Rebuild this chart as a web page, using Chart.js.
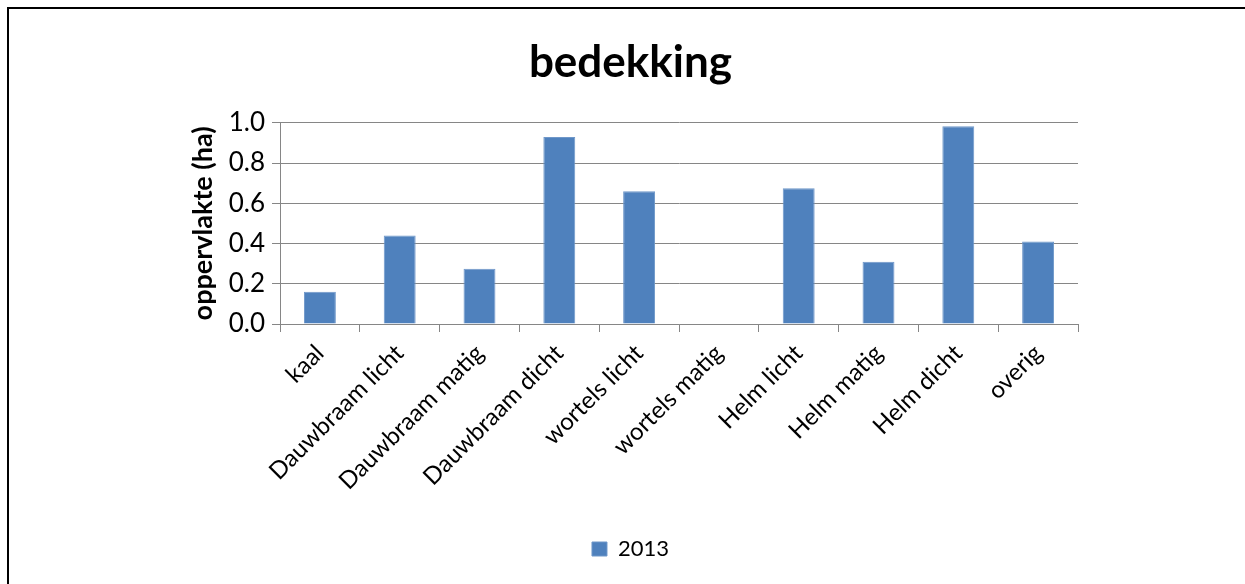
<!DOCTYPE html>
<html>
<head>
<meta charset="utf-8">
<script src="https://cdn.jsdelivr.net/npm/chart.js@4.4.0/dist/chart.umd.min.js"></script>
<style>
  html, body { margin: 0; padding: 0; background: #fff; overflow: hidden; }
  #frame { position: absolute; left: 7px; top: 7px; width: 1236px; height: 575px;
           border-left: 2px solid #000; border-top: 2px solid #000; }
  #wrap { position: absolute; left: 0; top: 0; width: 1245px; height: 584px; }
</style>
</head>
<body>
<div id="frame"></div>
<div id="wrap"><canvas id="myChart" width="1245" height="584"></canvas></div>
<script>
// bedekking per vegetatietype
const categories = ['kaal', 'Dauwbraam licht', 'Dauwbraam matig', 'Dauwbraam dicht', 'wortels licht',
                    'wortels matig', 'Helm licht', 'Helm matig', 'Helm dicht', 'overig']
const values2013 = [0.16, 0.44, 0.275, 0.93, 0.66, 0, 0.675, 0.31, 0.983, 0.41]
const yTicks = [0, 0.2, 0.4, 0.6, 0.8, 1.0]

const gridGrey = '#868686'
const font = 'Lato'

let ctx = document.getElementById('myChart').getContext('2d')

let chart = new Chart(ctx, {
    type: 'bar',
    data: {
        labels: categories,
        datasets: [{
            label: '2013',
            data: values2013,
            backgroundColor: '#4F81BD',
            borderColor: '#6F97C9',
            borderWidth: 1,
            categoryPercentage: 1,
            barPercentage: 0.4
        }]
    },
    options: {
        responsive: false,
        animation: false,
        devicePixelRatio: 1,
        layout: { padding: { left: 183, right: 167, top: 0, bottom: 14 } },
        plugins: {
            title: {
                display: true,
                text: 'bedekking',
                color: '#000',
                font: { family: font, size: 44, weight: 'bold', lineHeight: 1.2 },
                padding: { top: 36, bottom: 34 }
            },
            legend: {
                position: 'bottom',
                labels: {
                    color: '#000',
                    font: { family: font, size: 22 },
                    boxWidth: 15,
                    boxHeight: 14,
                    padding: 10
                }
            },
            tooltip: { enabled: false }
        },
        scales: {
            x: {
                grid: { display: true, drawOnChartArea: false, drawTicks: true, tickLength: 8, color: gridGrey },
                border: { display: true, color: gridGrey, width: 1 },
                ticks: {
                    color: '#000',
                    font: { family: font, size: 24 },
                    maxRotation: 45,
                    minRotation: 45,
                    padding: 7,
                    autoSkip: false
                },
                afterFit: s => { s.height = 204 }
            },
            y: {
                min: 0,
                max: 1,
                afterBuildTicks: s => { s.ticks = yTicks.map(v => ({ value: v })) },
                grid: { color: gridGrey, tickLength: 8 },
                border: { display: true, color: gridGrey, width: 1 },
                ticks: {
                    color: '#000',
                    font: { family: font, size: 26 },
                    padding: 7,
                    callback: v => v.toFixed(1)
                },
                title: {
                    display: true,
                    text: 'oppervlakte (ha)',
                    color: '#000',
                    font: { family: font, size: 27, weight: 'bold', lineHeight: 1.2 },
                    padding: { top: 4, bottom: 4 }
                },
                afterFit: s => { s.width = 97 }
            }
        }
    }
})
</script>
</body>
</html>
